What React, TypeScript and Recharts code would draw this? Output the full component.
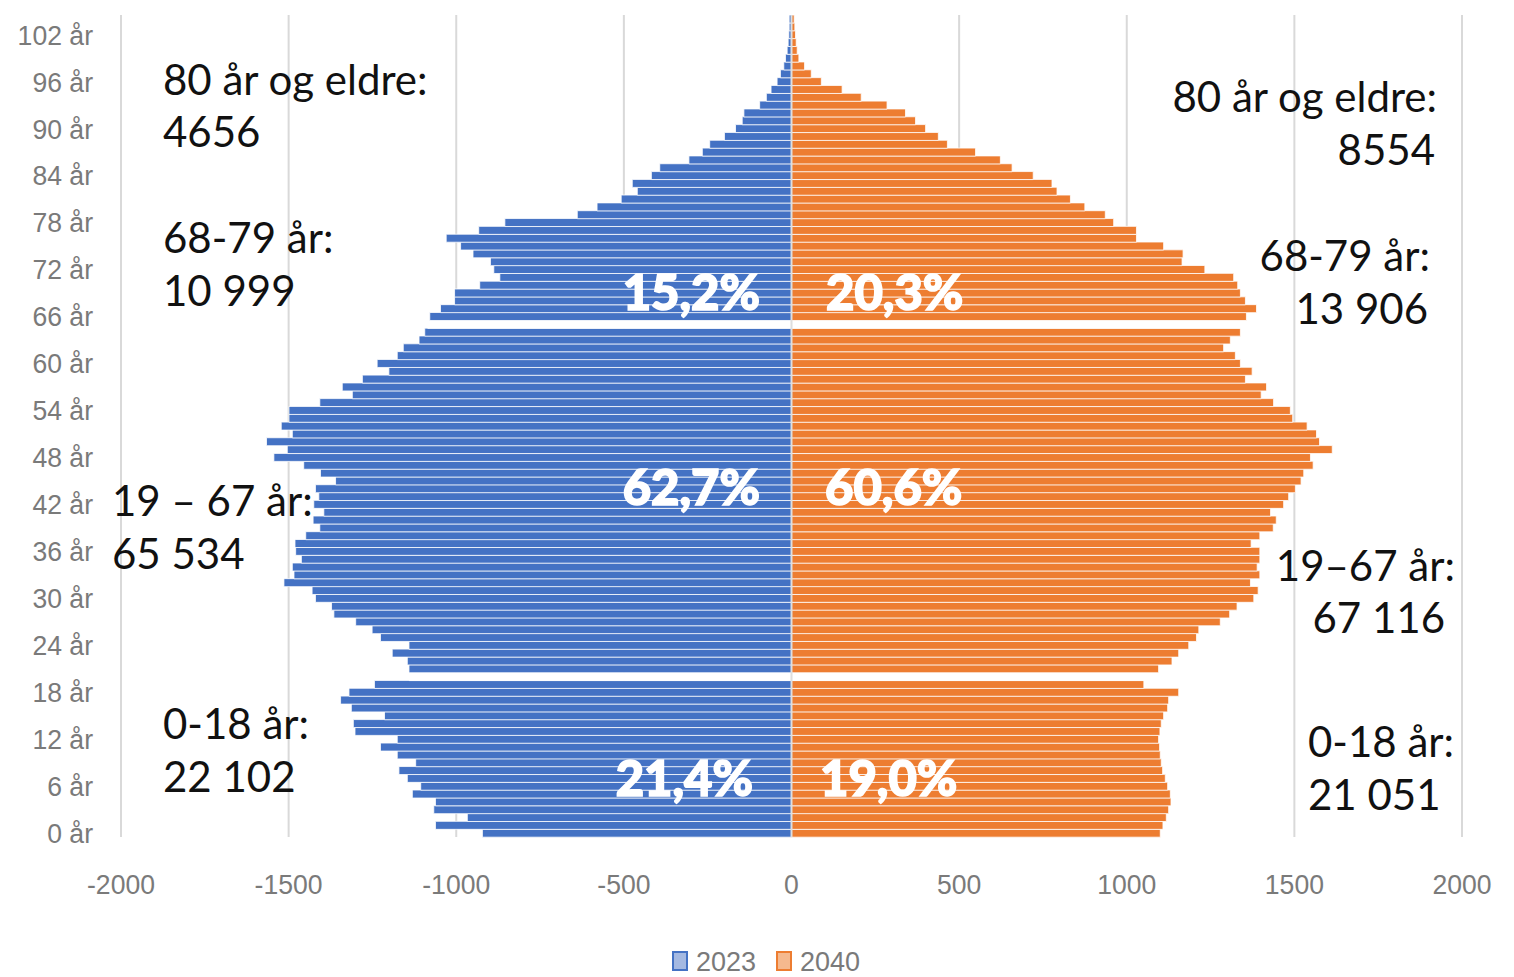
import React from 'react';
import { BarChart, Bar, XAxis, YAxis, CartesianGrid, Legend, ReferenceLine, Cell } from 'recharts';

const ages = [
  0, 1, 2, 3, 4, 5, 6, 7, 8, 9, 10, 11, 12, 13, 14, 15, 16, 17, 18, 19,
  20, 21, 22, 23, 24, 25, 26, 27, 28, 29, 30, 31, 32, 33, 34, 35, 36, 37, 38, 39,
  40, 41, 42, 43, 44, 45, 46, 47, 48, 49, 50, 51, 52, 53, 54, 55, 56, 57, 58, 59,
  60, 61, 62, 63, 64, 65, 66, 67, 68, 69, 70, 71, 72, 73, 74, 75, 76, 77, 78, 79,
  80, 81, 82, 83, 84, 85, 86, 87, 88, 89, 90, 91, 92, 93, 94, 95, 96, 97, 98, 99,
  100, 101, 102, 103, 104,
];

const pop2023 = [
  -922, -1062, -967, -1067, -1062, -1131, -1106, -1146, -1171, -1121,
  -1176, -1226, -1176, -1302, -1307, -1214, -1313, -1345, -1320, -1244,
  -1140, -1141, -1146, -1191, -1141, -1226, -1251, -1300, -1365, -1372,
  -1420, -1430, -1514, -1484, -1489, -1462, -1479, -1481, -1449, -1407,
  -1427, -1395, -1425, -1410, -1420, -1360, -1405, -1455, -1544, -1504,
  -1566, -1489, -1522, -1499, -1499, -1407, -1310, -1340, -1280, -1201,
  -1236, -1176, -1158, -1111, -1094, -1085, -1079, -1047, -1005, -1005,
  -930, -870, -888, -898, -950, -987, -1030, -933, -855, -639,
  -580, -508, -460, -475, -418, -393, -306, -266, -244, -200,
  -167, -147, -142, -95, -75, -61, -43, -33, -23, -18,
  -13, -10, -8, -7, -7,
];

const pop2040 = [
  1100, 1108, 1118, 1125, 1132, 1130, 1122, 1115, 1107, 1103,
  1100, 1098, 1095, 1099, 1103, 1110, 1122, 1125, 1155, 1051,
  1080, 1095, 1135, 1155, 1185, 1208, 1215, 1279, 1307, 1329,
  1379, 1392, 1369, 1397, 1389, 1397, 1397, 1371, 1397, 1437,
  1446, 1429, 1468, 1483, 1503, 1520, 1528, 1556, 1548, 1613,
  1575, 1566, 1538, 1495, 1488, 1438, 1401, 1417, 1354, 1374,
  1339, 1324, 1289, 1309, 1339, 1350, 1357, 1387, 1354, 1339,
  1331, 1319, 1233, 1165, 1168, 1110, 1029, 1029, 961, 936,
  875, 832, 792, 777, 721, 658, 623, 549, 465, 438,
  400, 370, 340, 285, 208, 151, 89, 59, 39, 22,
  17, 14, 12, 10, 8,
];

const xTicks = [-2000, -1500, -1000, -500, 0, 500, 1000, 1500, 2000];
const separatorAges = [20, 65];
const seriesNames = ['2023', '2040'];

const leftNotes = [
  { text: '80 år og eldre:', x: 163, cy: 80 },
  { text: '4656', x: 163, cy: 132 },
  { text: '68-79 år:', x: 163, cy: 238 },
  { text: '10 999', x: 163, cy: 291 },
  { text: '19 – 67 år:', x: 112, cy: 501 },
  { text: '65 534', x: 112, cy: 554 },
  { text: '0-18 år:', x: 163, cy: 724 },
  { text: '22 102', x: 163, cy: 777 },
];

const rightNotes = [
  { text: '80 år og eldre:', x: 1437, cy: 97, anchor: 'end' },
  { text: '8554', x: 1435, cy: 150, anchor: 'end' },
  { text: '68-79 år:', x: 1430, cy: 256, anchor: 'end' },
  { text: '13 906', x: 1428, cy: 309, anchor: 'end' },
  { text: '19–67 år:', x: 1455, cy: 566, anchor: 'end' },
  { text: '67 116', x: 1445, cy: 618, anchor: 'end' },
  { text: '0-18 år:', x: 1308, cy: 742, anchor: 'start' },
  { text: '21 051', x: 1308, cy: 795, anchor: 'start' },
];

const shareLabels = [
  { text: '15,2%', x: 760, cy: 292, anchor: 'end' },
  { text: '20,3%', x: 826, cy: 292, anchor: 'start' },
  { text: '62,7%', x: 760, cy: 487, anchor: 'end' },
  { text: '60,6%', x: 825, cy: 487, anchor: 'start' },
  { text: '21,4%', x: 753, cy: 778, anchor: 'end' },
  { text: '19,0%', x: 820, cy: 778, anchor: 'start' },
];

const BLUE = '#4472C4';
const ORANGE = '#ED7D31';
const TICK_COLOR = '#7a7a7a';
const TICK_FONT = "'Liberation Sans', Arial, sans-serif";
const NOTE_FONT = "Lato, 'Liberation Sans', sans-serif";

const data = ages.map((age, i) => ({ age, y2023: pop2023[i], y2040: pop2040[i] }));

const YTick = (props: any) => {
  const { y, payload } = props;
  return (
    <text
      x={0}
      y={0}
      transform={`translate(93, ${y + 10}) scale(0.95, 1)`}
      textAnchor="end"
      fill={TICK_COLOR}
      fontSize={28}
      fontFamily={TICK_FONT}
    >
      {`${payload.value} år`}
    </text>
  );
};

const XTick = (props: any) => {
  const { x, payload } = props;
  return (
    <text
      x={0}
      y={0}
      transform={`translate(${x}, 894) scale(0.95, 1)`}
      textAnchor="middle"
      fill={TICK_COLOR}
      fontSize={28}
      fontFamily={TICK_FONT}
    >
      {payload.value}
    </text>
  );
};

const renderLegend = () => (
  <svg width={1514} height={40} style={{ display: 'block', overflow: 'visible' }}>
    <rect x={673} y={15} width={14} height={18} fill="#A4B9E2" stroke={BLUE} strokeWidth={2} />
    <text x={696} y={34} fill={TICK_COLOR} fontSize={27} fontFamily={TICK_FONT}>
      {seriesNames[0]}
    </text>
    <rect x={777} y={15} width={14} height={18} fill="#F5B98E" stroke={ORANGE} strokeWidth={2} />
    <text x={800} y={34} fill={TICK_COLOR} fontSize={27} fontFamily={TICK_FONT}>
      {seriesNames[1]}
    </text>
  </svg>
);

export default function App() {
  return (
    <div style={{ position: 'absolute', left: 0, top: 0, width: 1514, height: 977, background: '#fff' }}>
      <BarChart
        width={1514}
        height={977}
        data={data}
        layout="vertical"
        margin={{ top: 15, right: 52, bottom: 0, left: 0 }}
        barCategoryGap={0}
        stackOffset="sign"
      >
        <CartesianGrid horizontal={false} vertical={true} stroke="#d9d9d9" strokeWidth={2} />
        <XAxis
          type="number"
          domain={[-2000, 2000]}
          ticks={xTicks}
          tickLine={false}
          axisLine={false}
          height={100}
          tick={<XTick />}
          allowDataOverflow
        />
        <YAxis
          type="category"
          dataKey="age"
          reversed
          interval={5}
          width={121}
          tickLine={false}
          axisLine={false}
          tick={<YTick />}
        />
        <Bar dataKey="y2023" name={seriesNames[0]} stackId="pyr" fill={BLUE} stroke="#ffffff" strokeWidth={0.8} isAnimationActive={false}>
          {data.map((d) => (
            <Cell key={`b-${d.age}`} fill={separatorAges.includes(d.age) ? '#ffffff' : BLUE} />
          ))}
        </Bar>
        <Bar dataKey="y2040" name={seriesNames[1]} stackId="pyr" fill={ORANGE} stroke="#ffffff" strokeWidth={0.8} isAnimationActive={false}>
          {data.map((d) => (
            <Cell key={`o-${d.age}`} fill={separatorAges.includes(d.age) ? '#ffffff' : ORANGE} />
          ))}
        </Bar>
        <ReferenceLine x={0} stroke="#dedede" strokeWidth={2} />
        <Legend verticalAlign="bottom" height={40} content={renderLegend} wrapperStyle={{ left: 0, width: 1514, bottom: 0 }} />
      </BarChart>
      <svg width={1514} height={977} style={{ position: 'absolute', left: 0, top: 0, pointerEvents: 'none' }}>
        <rect x={1300} y={290} width={140} height={38} fill="#ffffff" />
        {leftNotes.map((n, i) => (
          <text key={`l-${i}`} x={n.x} y={n.cy + 15} fontSize={42} fontFamily={NOTE_FONT} fill="#111" textAnchor="start">
            {n.text}
          </text>
        ))}
        {rightNotes.map((n, i) => (
          <text key={`r-${i}`} x={n.x} y={n.cy + 15} fontSize={42} fontFamily={NOTE_FONT} fill="#111" textAnchor={n.anchor as any}>
            {n.text}
          </text>
        ))}
        {shareLabels.map((n, i) => (
          <text
            key={`s-${i}`}
            x={n.x}
            y={n.cy + 18}
            fontSize={49}
            fontWeight={900}
            fontFamily={NOTE_FONT}
            fill="#ffffff"
            stroke="#ffffff"
            strokeWidth={1.6}
            paintOrder="stroke"
            textAnchor={n.anchor as any}
          >
            {n.text}
          </text>
        ))}
      </svg>
    </div>
  );
}
